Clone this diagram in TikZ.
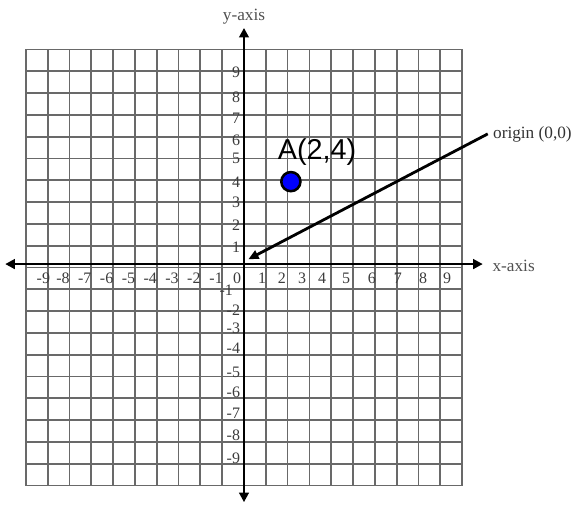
\documentclass[tikz,border=0pt]{standalone}
\usepackage{fontspec}
\setmainfont{Liberation Serif}
\newfontfamily\arialfont{Liberation Sans}
\usetikzlibrary{arrows.meta,positioning}

\definecolor{gridgray}{RGB}{105,105,105}
\definecolor{labelgray}{RGB}{80,80,80}
\definecolor{numgray}{RGB}{60,60,60}

\begin{document}
\begin{tikzpicture}[
    x=0.6cm, y=0.6cm,
    gridline/.style={draw=gridgray, line width=1.4pt},
    axis/.style={{Triangle[length=7.5pt, width=7.5pt]}-{Triangle[length=7.5pt, width=7.5pt]}, line width=2.2pt},
    pointer/.style={-{Triangle[length=8pt, width=7pt]}, line width=2.2pt},
    num/.style={font=\fontsize{12.5}{14}\selectfont, text=numgray, inner sep=0pt},
    lbl/.style={font=\fontsize{13.5}{15}\selectfont, text=labelgray, inner sep=1pt},
    dot/.style={circle, fill=blue, draw=black, line width=2pt, minimum size=15pt, inner sep=0pt},
  ]
  \useasboundingbox (-11.19,-11.01) rectangle (15.41,12.11);

  % 20 x 20 grid, sitting a touch below the axis
  \begin{scope}[yshift=-0.096cm]
    \draw[gridline, step=0.6cm] (-10,-10) grid (10,10);
  \end{scope}

  % axes
  \coordinate (xl) at (-10.95,0);
  \coordinate (xr) at (10.95,0);
  \coordinate (yb) at (0,-10.92);
  \coordinate (yt) at (0,10.83);
  \draw[axis] (xl) -- (xr);
  \draw[axis] (yb) -- (yt);
  \node[lbl, anchor=west] (xlab) at (11.33,-0.09) {x-axis};
  \node[lbl] (ylab) at (0,11.33) {y-axis};

  % numbers along the x-axis
  \foreach \p/\t in {-9.2/-9, -8.3/-8, -7.3/-7, -6.3/-6, -5.3/-5, -4.3/-4, -3.3/-3,
                     -2.3/-2, -1.28/-1, -0.32/0, 0.83/1, 1.74/2, 2.66/3, 3.58/4,
                     4.68/5, 5.87/6, 7.06/7, 8.21/8, 9.31/9}
    \node[num] (nx\t) at (\p,-0.64) {\t};

  % numbers along the y-axis
  \foreach \p/\t in {8.8/9, 7.66/8, 6.7/7, 5.69/6, 4.86/5, 3.76/4, 2.84/3, 1.79/2, 0.78/1,
                     -2.11/-2, -2.94/-3, -3.85/-4, -4.95/-5, -5.87/-6, -6.83/-7,
                     -7.84/-8, -8.9/-9}
    \node[num, anchor=east] (ny\t) at (-0.17,\p) {\t};
  \node[num, anchor=east] (ny-1) at (-0.5,-1.19) {-1};

  % point A
  \node[dot] (A) at (2.15,3.78) {};
  \node[font=\arialfont\fontsize{22.5}{24}\selectfont, inner sep=0pt] (Alab) at (3.35,5.12) {A(2,4)};

  % origin callout
  \node[lbl, text=black!80, inner sep=4pt, anchor=west] (orig) at (11.18,5.97) {origin (0,0)};
  \coordinate (O) at (0.2,0.22);
  \draw[pointer] (orig.west) -- (O);
\end{tikzpicture}
\end{document}
